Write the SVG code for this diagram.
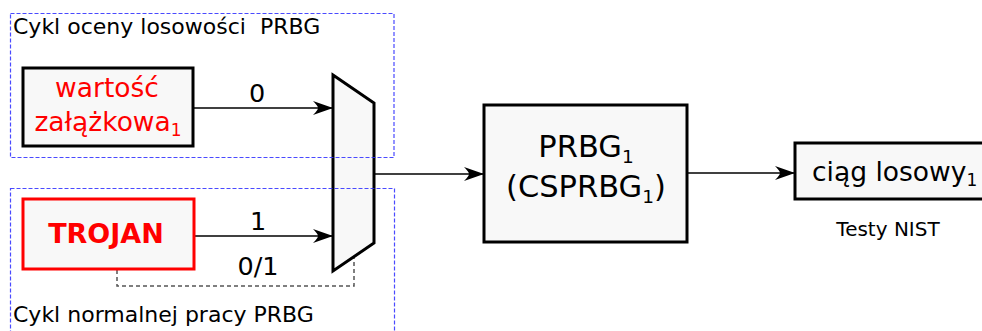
<svg xmlns="http://www.w3.org/2000/svg" width="982" height="331" viewBox="0 0 982 331">
<style>
text{font-family:"DejaVu Sans","Liberation Sans",sans-serif;}
.box{fill:#f8f8f8;stroke:#000;stroke-width:3;}
.wire{fill:none;stroke:#000;stroke-width:1.5;}
.frame{fill:none;stroke:#2a2aff;stroke-width:1.2;stroke-dasharray:4,2;opacity:0.85;}
.lbl{font-size:22px;fill:#000;}
.num{font-size:25.5px;fill:#000;text-anchor:middle;}
</style>
<defs>
<marker id="arr" markerUnits="userSpaceOnUse" markerWidth="24" markerHeight="16" viewBox="-22 -8 24 16" refX="0" refY="0" orient="auto">
<path d="M0,0 L-20,-7 Q-15,-2 -15,0 Q-15,2 -20,7 Z" fill="#000"/>
</marker>
</defs>
<g id="connectors">
<line class="wire" x1="193" y1="108" x2="333" y2="108" marker-end="url(#arr)"/>
<line class="wire" x1="194" y1="236" x2="333" y2="236" marker-end="url(#arr)"/>
<line class="wire" x1="374" y1="174" x2="484" y2="174" marker-end="url(#arr)"/>
<line class="wire" x1="687" y1="173" x2="795" y2="173" marker-end="url(#arr)"/>
<polyline points="117,270 117,286 354,286 354,257" fill="none" stroke="#555" stroke-width="1.5" stroke-dasharray="4,3"/>
<text class="num" x="257" y="102">0</text>
<text class="num" x="258" y="230">1</text>
<text class="num" x="258" y="275">0/1</text>
</g>
<g id="seed">
<rect class="box" x="23" y="68" width="170" height="78"/>
<text x="107" y="97" font-size="26.5" fill="#ff0000" text-anchor="middle">wartość</text>
<text x="108" y="131" font-size="26.5" fill="#ff0000" text-anchor="middle">załążkowa<tspan font-size="17" dy="5">1</tspan></text>
</g>
<g id="trojan">
<rect x="23" y="199" width="171" height="70" fill="#f8f8f8" stroke="#ff0000" stroke-width="3"/>
<text x="106" y="243" font-size="27" font-weight="bold" fill="#ff0000" text-anchor="middle">TROJAN</text>
</g>
<g id="mux">
<polygon class="box" points="333,75 374,103 374,243 333,271"/>
</g>
<g id="prbg">
<rect class="box" x="484" y="105" width="203" height="137"/>
<text x="586" y="157" font-size="30.5" text-anchor="middle">PRBG<tspan font-size="18.5" dy="6">1</tspan></text>
<text x="586" y="197" font-size="30.5" text-anchor="middle">(CSPRBG<tspan font-size="18.5" dy="6">1</tspan><tspan dy="-6">)</tspan></text>
</g>
<g id="output">
<rect class="box" x="795" y="143" width="200" height="56"/>
<text x="812" y="181" font-size="26.5">ciąg losowy<tspan font-size="17" dy="5">1</tspan></text>
<text x="888" y="236" font-size="20" text-anchor="middle">Testy NIST</text>
</g>
<g id="frames">
<rect class="frame" x="10.5" y="13.5" width="383.5" height="144"/>
<rect class="frame" x="10.5" y="188.5" width="384" height="160"/>
<text class="lbl" x="13" y="34" xml:space="preserve">Cykl oceny losowości  PRBG</text>
<text class="lbl" x="13" y="322">Cykl normalnej pracy PRBG</text>
</g>
</svg>
